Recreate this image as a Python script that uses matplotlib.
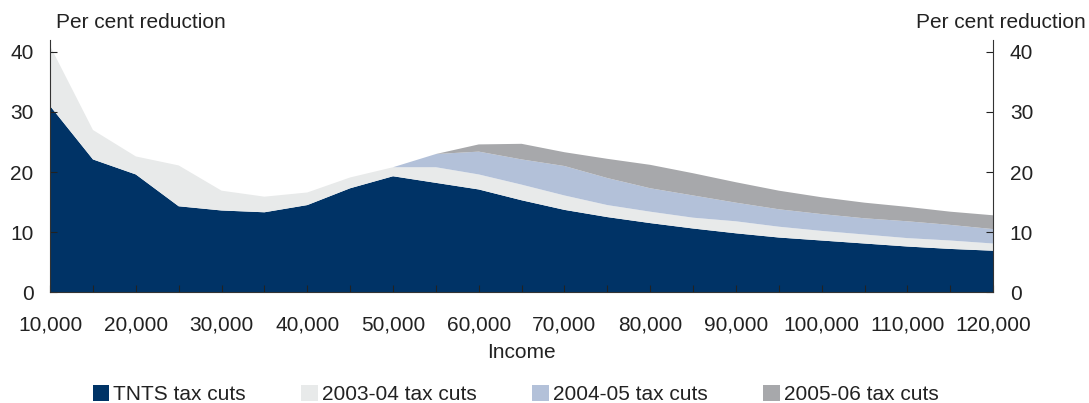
import matplotlib.pyplot as plt
from matplotlib.patches import Patch

plt.rcParams['font.family'] = ['Liberation Sans', 'DejaVu Sans']

# 소득 구간 (5,000 단위)
income = list(range(10000, 120001, 5000))

tnts = [31.0, 22.1, 19.6, 14.3, 13.6, 13.3, 14.5, 17.3, 19.3, 18.2, 17.1, 15.3,
        13.7, 12.5, 11.5, 10.6, 9.8, 9.1, 8.6, 8.1, 7.6, 7.2, 6.9]
cuts_0304 = [10.0, 4.9, 3.0, 6.8, 3.3, 2.6, 2.1, 1.8, 1.5, 2.6, 2.5, 2.6,
             2.4, 2.0, 1.9, 1.8, 2.0, 1.8, 1.6, 1.5, 1.4, 1.4, 1.2]
cuts_0405 = [0, 0, 0, 0, 0, 0, 0, 0, 0, 2.2, 3.8, 4.2,
             4.9, 4.5, 3.9, 3.7, 3.1, 2.9, 2.8, 2.7, 2.8, 2.6, 2.4]
cuts_0506 = [0, 0, 0, 0, 0, 0, 0, 0, 0, 0, 1.2, 2.6,
             2.3, 3.2, 3.9, 3.7, 3.4, 3.1, 2.8, 2.6, 2.4, 2.2, 2.3]

labels = ["TNTS tax cuts", "2003-04 tax cuts", "2004-05 tax cuts", "2005-06 tax cuts"]
colors = ["#003366", "#E8EAEA", "#B3C1D9", "#A7A8AB"]
fs = 15

fig = plt.figure(figsize=(10.89, 4.03), dpi=100)
ax = fig.add_axes([0.046, 0.275, 0.866, 0.626])
ax.stackplot(income, tnts, cuts_0304, cuts_0405, cuts_0506, colors=colors, linewidth=0)

ax.set_xlim(10000, 120000)
ax.set_ylim(0, 42)
ticks = list(range(10000, 120001, 5000))
ax.set_xticks(ticks)
ax.set_xticklabels([f"{x:,}" if x % 10000 == 0 else "" for x in ticks])
ax.set_yticks([0, 10, 20, 30, 40])
ax.spines['top'].set_visible(False)
for s in ['left', 'right', 'bottom']:
    ax.spines[s].set_color('#333333')
ax.tick_params(direction='in', length=5, labelsize=fs, colors='#222222', right=True, labelright=True)
ax.tick_params(axis='x', pad=17)
ax.tick_params(axis='y', pad=12)
ax.set_xlabel("Income", fontsize=fs, labelpad=6, color='#222222')

fig.text(0.051, 0.930, "Per cent reduction", fontsize=fs, ha='left', va='baseline', color='#222222')
fig.text(0.997, 0.930, "Per cent reduction", fontsize=fs, ha='right', va='baseline', color='#222222')

handles = [Patch(facecolor=c, edgecolor='none') for c in colors]
fig.legend(handles, labels, loc='center', bbox_to_anchor=(0.4734, 0.021), ncol=4, frameon=False,
           fontsize=fs, handlelength=0.8, handleheight=0.8, handletextpad=0.2, columnspacing=2.65,
           borderpad=0, labelcolor='#222222')

fig.savefig("out.png", dpi=100)
